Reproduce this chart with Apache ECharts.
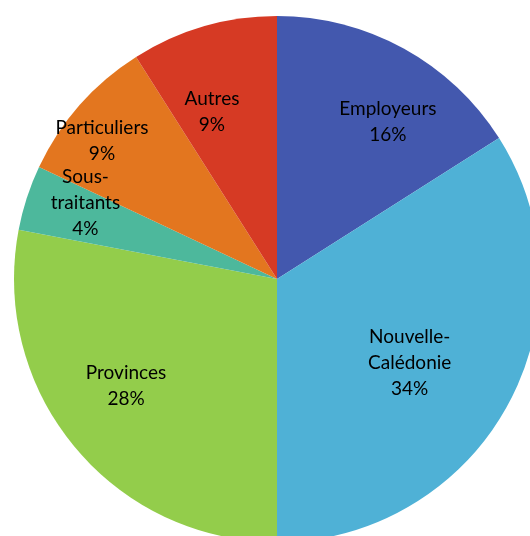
<!DOCTYPE html>
<html>
<head>
<meta charset="utf-8">
<script src="https://cdn.jsdelivr.net/npm/echarts@6/dist/echarts.min.js"></script>
<style>
html,body{margin:0;padding:0;background:#fff;}
#chart{width:530px;height:536px;}
</style>
</head>
<body>
<div id="chart"></div>
<script>
// Data
var categories = ['Employeurs', 'Nouvelle-\nCalédonie', 'Provinces', 'Sous-\ntraitants', 'Particuliers', 'Autres'];
var values = [16, 34, 28, 4, 9, 9];

// Styles (kept separate from data)
var colors = ['#4358AE', '#4FB1D6', '#93CD4B', '#4DB89C', '#E3761F', '#D63A24'];
// label placement: angle (deg, clockwise from top) and distance (px) from centre
var labelAngles = [35.3, 122.3, 234.7, 291.6, 308.3, 338.7];
var labelDists = [192, 157, 185, 206, 223, 179];
var CX = 277, CY = 279, R = 263;

var chart = echarts.init(document.getElementById('chart'));
chart.setOption({
  animation: false,
  series: [{
    type: 'pie',
    center: [CX, CY],
    radius: [0, R],
    startAngle: 90,
    clockwise: true,
    avoidLabelOverlap: false,
    data: categories.map(function (c, i) {
      return { name: c, value: values[i], itemStyle: { color: colors[i] } };
    }),
    itemStyle: { borderWidth: 0 },
    label: {
      show: true,
      position: 'inside',
      formatter: function (p) { return p.name + '\n' + p.value + '%'; },
      color: '#000',
      fontFamily: 'Lato',
      fontSize: 19,
      lineHeight: 26,
      align: 'center'
    },
    labelLine: { show: false },
    labelLayout: function (p) {
      var i = p.dataIndex;
      var a = labelAngles[i] * Math.PI / 180;
      return {
        x: CX + labelDists[i] * Math.sin(a),
        y: CY - labelDists[i] * Math.cos(a),
        align: 'center',
        verticalAlign: 'middle'
      };
    },
    emphasis: { disabled: true }
  }]
});
</script>
</body>
</html>
